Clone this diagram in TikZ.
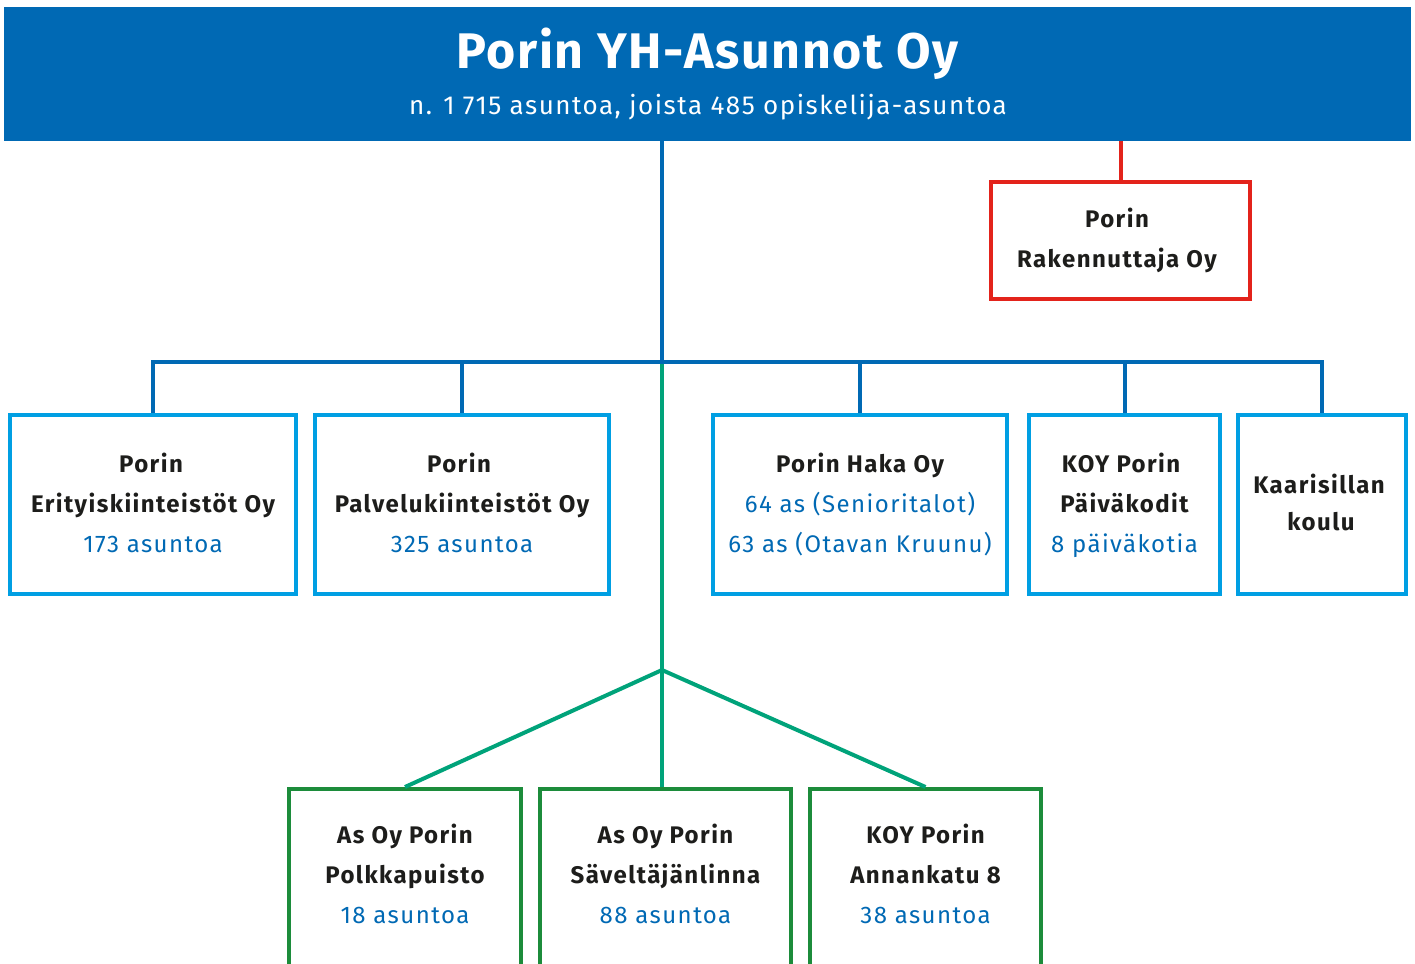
\documentclass[tikz,border=0pt]{standalone}
\usepackage{fontspec}
\setmainfont{Fira Sans}
\definecolor{yhblue}{HTML}{0069B4}
\definecolor{lblue}{HTML}{009FE3}
\definecolor{ygreen}{HTML}{00A37A}
\definecolor{dgreen}{HTML}{1C8C3B}
\definecolor{ored}{HTML}{E3231B}
\definecolor{txt}{HTML}{1D1D1B}
\begin{document}
\begin{tikzpicture}[x=1pt,y=-1pt,
  box/.style={draw=lblue,line width=4pt,inner sep=0pt,minimum height=179pt},
  gbox/.style={draw=dgreen,line width=4pt,inner sep=0pt,minimum height=300pt,anchor=north},
  rbox/.style={draw=ored,line width=4pt,inner sep=0pt},
  nm/.style={text=txt,font=\fontsize{24}{24}\selectfont\bfseries\addfontfeature{LetterSpace=6},anchor=base,inner sep=0pt},
  ct/.style={text=yhblue,font=\fontsize{24}{24}\selectfont\addfontfeature{LetterSpace=6},anchor=base,inner sep=0pt},
  bl/.style={draw=yhblue,line width=4pt},
  gl/.style={draw=ygreen,line width=4pt}]
\clip (0,0) rectangle (1415,963);
\fill[white] (0,0) rectangle (1415,963);
% banner
\node[fill=yhblue,minimum width=1407pt,minimum height=134pt,inner sep=0pt,anchor=north west] (top) at (4,7) {};
\node[text=white,font=\fontsize{50}{50}\selectfont\bfseries\addfontfeature{LetterSpace=3.2},anchor=base,inner sep=0pt] (title) at (707.5,69) {Porin YH-Asunnot Oy};
\node[text=white,font=\fontsize{26}{26}\selectfont\addfontfeature{LetterSpace=5.8},anchor=base,inner sep=0pt] (sub) at (708,115) {n. 1 715 asuntoa, joista 485 opiskelija-asuntoa};
% red box
\node[rbox,minimum width=259pt,minimum height=117pt] (rak) at (1120.5,240.5) {};
\node[nm] (rak1) at (1117,227) {Porin};
\node[nm] (rak2) at (1117,267) {Rakennuttaja Oy};
% blue boxes
\node[box,minimum width=286pt] (b1) at (153,504.5) {};
\node[box,minimum width=294pt] (b2) at (462,504.5) {};
\node[box,minimum width=294pt] (b3) at (860,504.5) {};
\node[box,minimum width=191pt] (b4) at (1124.5,504.5) {};
\node[box,minimum width=168pt] (b5) at (1322,504.5) {};
\node[nm] (b1a) at (151,472) {Porin};
\node[nm] (b1b) at (153,512) {Erityiskiinteistöt Oy};
\node[ct] (b1c) at (153,552) {173 asuntoa};
\node[nm] (b2a) at (459,472) {Porin};
\node[nm] (b2b) at (462,512) {Palvelukiinteistöt Oy};
\node[ct] (b2c) at (462,552) {325 asuntoa};
\node[nm] (b3a) at (860,472) {Porin Haka Oy};
\node[ct] (b3b) at (860,512) {64 as (Senioritalot)};
\node[ct] (b3c) at (860,552) {63 as (Otavan Kruunu)};
\node[nm] (b4a) at (1121,472) {KOY Porin};
\node[nm] (b4b) at (1124.5,512) {Päiväkodit};
\node[ct] (b4c) at (1124.5,552) {8 päiväkotia};
\node[nm] (b5a) at (1319,493) {Kaarisillan};
\node[nm] (b5b) at (1321,530) {koulu};
% green boxes
\node[gbox,minimum width=232pt] (g1) at (405,787) {};
\node[gbox,minimum width=251pt] (g2) at (665.5,787) {};
\node[gbox,minimum width=231pt] (g3) at (925.5,787) {};
\node[nm] (g1a) at (405,843) {As Oy Porin};
\node[nm] (g1b) at (405,883) {Polkkapuisto};
\node[ct] (g1c) at (405,923) {18 asuntoa};
\node[nm] (g2a) at (665.5,843) {As Oy Porin};
\node[nm] (g2b) at (665.5,883) {Säveltäjänlinna};
\node[ct] (g2c) at (665.5,923) {88 asuntoa};
\node[nm] (g3a) at (925.5,843) {KOY Porin};
\node[nm] (g3b) at (925.5,883) {Annankatu 8};
\node[ct] (g3c) at (925.5,923) {38 asuntoa};
% connectors
\coordinate (hub) at (662,362);
\coordinate (fork) at (662,670);
\draw[gl] (hub) -- (fork);
\draw[gl,line join=round] (g1.north) -- (fork) -- (g3.north);
\draw[gl] (fork) -- (fork |- g2.north);
\draw[bl] (hub |- top.south) -- (hub);
\draw[bl] (b1.north) |- (hub) -| (b5.north);
\draw[bl] (b2.north) -- (b2.north |- hub);
\draw[bl] (b3.north) -- (b3.north |- hub);
\draw[bl] (b4.north) -- (b4.north |- hub);
\draw[draw=ored,line width=4pt] (rak.north) -- (rak.north |- top.south);
\end{tikzpicture}
\end{document}
